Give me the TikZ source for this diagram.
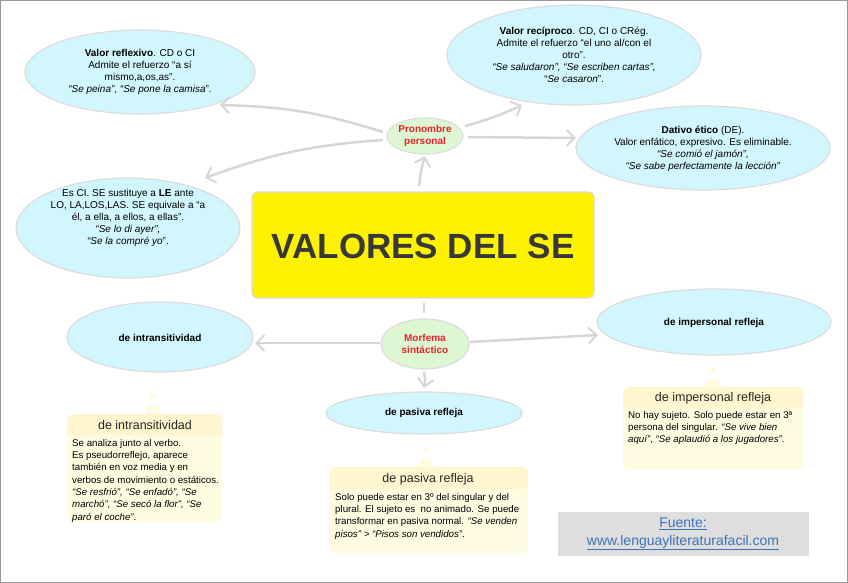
\documentclass[tikz,border=0pt]{standalone}
\usepackage{fontspec}
\setmainfont{Liberation Sans}
\usetikzlibrary{arrows.meta}
\definecolor{bub}{HTML}{D2F6FD}
\definecolor{bubl}{HTML}{DCDCDC}
\definecolor{grn}{HTML}{DDF7D3}
\definecolor{redt}{HTML}{E8202D}
\definecolor{ylw}{HTML}{FEF200}
\definecolor{note}{HTML}{FFFBE0}
\definecolor{noteh}{HTML}{FFF6CF}
\definecolor{arr}{HTML}{D6D6D6}
\definecolor{lnk}{HTML}{3B73B9}
\begin{document}
\begin{tikzpicture}[x=1pt,y=-1pt,
  ell/.style={draw=bubl,line width=1.2pt,fill=bub},
  txt/.style={align=center,font=\fontsize{10}{12}\selectfont},
  con/.style={draw=arr,line width=2.5pt,-{Straight Barb[length=8pt,width=16pt,line width=2pt]}},
  notebox/.style={fill=note,rounded corners=7pt},
  ntxt/.style={align=left,anchor=north west,font=\fontsize{9.7}{12.3}\selectfont,inner sep=0pt},
  nhead/.style={font=\fontsize{12.5}{14}\selectfont,text=black!85}]
\useasboundingbox (0,0) rectangle (848,583);
\draw[gray!80,line width=1.2pt] (0.6,0.6) rectangle (847.4,582.4);
% ellipses
\fill[ell] (140,72) ellipse (115 and 42);
\node[txt] (refl) at (140,72) {\textbf{Valor reflexivo}. CD o CI\\Admite el refuerzo “a sí\\mismo,a,os,as”.\\\textit{“Se peina”}, \textit{“Se pone la camisa}”.};
\fill[ell] (574,55) ellipse (127 and 50);
\node[txt] (reci) at (574,55) {\textbf{Valor recíproco}. CD, CI o CRég.\\Admite el refuerzo “el uno al/con el\\otro”.\\\textit{“Se saludaron”, “Se escriben cartas”,}\\\textit{“Se casaron}”.};
\fill[ell] (703,148) ellipse (127 and 42);
\node[txt] (dat) at (703,149) {\textbf{Dativo ético} (DE).\\Valor enfático, expresivo. Es eliminable.\\\textit{“Se comió el jamón”,}\\\textit{“Se sabe perfectamente la lección”}};
\fill[ell] (128,228) ellipse (112 and 50);
\node[txt] (le) at (128,218) {Es CI. SE sustituye a \textbf{LE} ante\\LO, LA,LOS,LAS. SE equivale a “a\\él, a ella, a ellos, a ellas”.\\\textit{“Se lo di ayer”,}\\\textit{“Se la compré yo}”.};
\fill[ell] (160,337) ellipse (93 and 35);
\node[txt] (intr) at (160,338) {\textbf{de intransitividad}};
\fill[ell] (714,322) ellipse (117 and 33);
\node[txt] (imp) at (714,323) {\textbf{de impersonal refleja}};
\fill[ell] (424,413) ellipse (98 and 21);
\node[txt] (pas) at (424,413) {\textbf{de pasiva refleja}};
% green
\fill[draw=bubl,line width=1.2pt,fill=grn] (425,136) ellipse (38 and 18);
\node[txt,text=redt] (pron) at (425,136) {\textbf{Pronombre}\\\textbf{personal}};
\fill[draw=bubl,line width=1.2pt,fill=grn] (425,344) ellipse (44 and 25);
\node[txt,text=redt] (morf) at (425,344) {\textbf{Morfema}\\\textbf{sintáctico}};
% title
\fill[draw=bubl,line width=1.2pt,fill=ylw,rounded corners=5pt] (252,192) rectangle (594,298);
\node[font=\bfseries\fontsize{35}{40}\selectfont,text=black!78] (title) at (423,246) {VALORES DEL SE};
% connectors
\coordinate (t1) at (419,186);
\draw[con] (t1) to[bend left=5] (425,156);
\draw[con] (383,132) to[bend right=8] (220,105);
\draw[con] (383,140) to[bend right=8] (205,178);
\draw[con] (465,126) to[bend right=5] (522,105);
\draw[con] (468,137) -- (576,138);
\draw[draw=arr,line width=2.5pt] (424,303) -- (424,313);
\draw[con] (380,343) -- (255,343);
\draw[con] (470,342) -- (598,335);
\draw[con] (424,372) to[bend left=10] (424,388);
% notes
\fill[note] (153,388) circle (1.3) (153,396) circle (3);
\fill[note] (153,413) circle (8);
\fill[notebox] (67,414) rectangle (222,522);
\fill[noteh,rounded corners=7pt] (67,414) rectangle (222,435); \fill[noteh] (67,428) rectangle (222,435);
\node[nhead] (nh1) at (145,425) {de intransitividad};
\node[ntxt] (nt1) at (72,439) {Se analiza junto al verbo.\\Es pseudorreflejo, aparece\\también en voz media y en\\verbos de movimiento o estáticos.\\\textit{“Se resfrió”, “Se enfadó”, “Se}\\\textit{marchó”, “Se secó la flor”, “Se}\\\textit{paró el coche”}.};
\fill[note] (426,442) circle (1.3) (426,450) circle (3);
\fill[note] (426,467) circle (8);
\fill[notebox] (329,467) rectangle (528,553);
\fill[noteh,rounded corners=7pt] (329,467) rectangle (528,489); \fill[noteh] (329,482) rectangle (528,489);
\node[nhead] (nh2) at (428,479) {de pasiva refleja};
\node[ntxt] (nt2) at (335,493) {Solo puede estar en 3º del singular y del\\plural. El sujeto es\ \ no animado. Se puede\\transformar en pasiva normal. \textit{“Se venden}\\\textit{pisos” > “Pisos son vendidos”}.};
\fill[note] (713,361) circle (1.3) (713,370) circle (3);
\fill[note] (713,388) circle (9);
\fill[notebox] (623,387) rectangle (803,470);
\fill[noteh,rounded corners=7pt] (623,387) rectangle (803,408); \fill[noteh] (623,401) rectangle (803,408);
\node[nhead] (nh3) at (713,398) {de impersonal refleja};
\node[ntxt] (nt3) at (628,411) {No hay sujeto. Solo puede estar en 3ª\\persona del singular. \textit{“Se vive bien}\\\textit{aquí”}, \textit{“Se aplaudió a los jugadores”}.};
% source
\fill[black!13] (558,512) rectangle (809,556);
\node[align=center,text=lnk,font=\fontsize{14}{18}\selectfont] (src) at (683,534) {\underline{Fuente:}\\\underline{www.lenguayliteraturafacil.com}};
\end{tikzpicture}
\end{document}
